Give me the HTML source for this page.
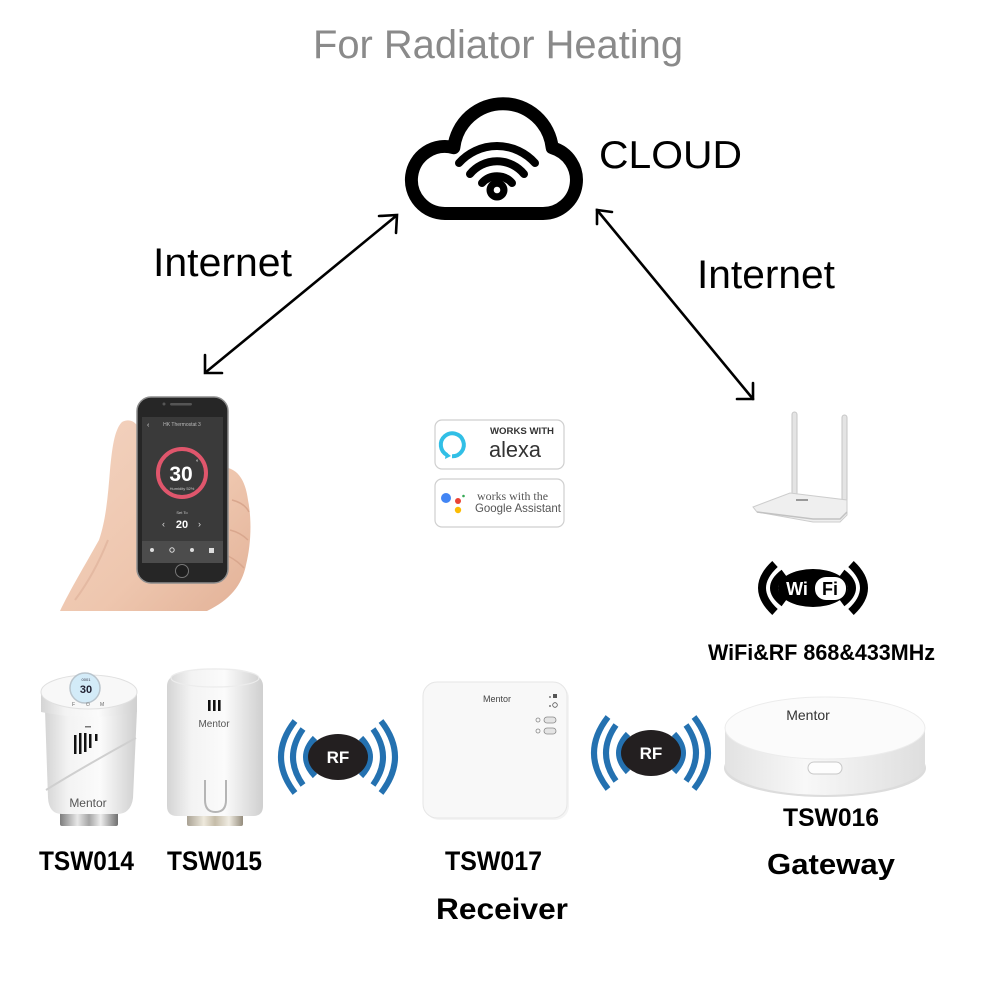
<!DOCTYPE html>
<html><head><meta charset="utf-8"><style>
html,body{margin:0;padding:0;background:#fff;}
svg{display:block;}
</style></head><body>
<svg width="1000" height="1000" viewBox="0 0 1000 1000" xmlns="http://www.w3.org/2000/svg" font-family="'Liberation Sans', Arial, sans-serif">
<defs>
  <linearGradient id="cyl" x1="0" y1="0" x2="1" y2="0">
    <stop offset="0" stop-color="#d4d4d4"/><stop offset="0.25" stop-color="#f3f3f3"/>
    <stop offset="0.6" stop-color="#fbfbfb"/><stop offset="1" stop-color="#cfcfcf"/>
  </linearGradient>
  <linearGradient id="metal" x1="0" y1="0" x2="1" y2="0">
    <stop offset="0" stop-color="#7d7d7d"/><stop offset="0.3" stop-color="#e8e8e8"/>
    <stop offset="0.5" stop-color="#a5a5a5"/><stop offset="0.7" stop-color="#eeeeee"/><stop offset="1" stop-color="#6f6f6f"/>
  </linearGradient>
  <linearGradient id="brass" x1="0" y1="0" x2="1" y2="0">
    <stop offset="0" stop-color="#a9a294"/><stop offset="0.3" stop-color="#eee9dc"/>
    <stop offset="0.5" stop-color="#c5bca8"/><stop offset="0.75" stop-color="#f0ece2"/><stop offset="1" stop-color="#948c7c"/>
  </linearGradient>
  <linearGradient id="gwside" x1="0" y1="0" x2="1" y2="0">
    <stop offset="0" stop-color="#e2e2e2"/><stop offset="0.4" stop-color="#f8f8f8"/><stop offset="1" stop-color="#dedede"/>
  </linearGradient>
  <linearGradient id="skin" x1="0" y1="0" x2="1" y2="1">
    <stop offset="0" stop-color="#f3d3c0"/><stop offset="0.6" stop-color="#eec6ae"/><stop offset="1" stop-color="#e2b197"/>
  </linearGradient>
</defs>

<!-- Title -->
<text x="313" y="58" font-size="40" fill="#8a8a8a" textLength="370" lengthAdjust="spacingAndGlyphs">For Radiator Heating</text>

<!-- Cloud -->
<path d="M445,213.5 A33.5,33.5 0 1 1 453.8,147.7 A49.5,49.5 0 0 1 552.2,147.8 A33.5,33.5 0 0 1 543,213.5 Z" fill="none" stroke="#000" stroke-width="13" stroke-linejoin="round"/>
<g fill="none" stroke="#000" stroke-width="8" stroke-linecap="round">
  <path d="M459,163 A51,51 0 0 1 535,163"/>
  <path d="M470,174 A35,35 0 0 1 524,174"/>
  <path d="M482,183 A20,20 0 0 1 512,183"/>
</g>
<circle cx="497" cy="190" r="10.5" fill="#000"/>
<circle cx="497" cy="190" r="3.3" fill="#fff"/>
<text x="599" y="168" font-size="39" fill="#000" textLength="143" lengthAdjust="spacingAndGlyphs">CLOUD</text>

<!-- Arrows -->
<g stroke="#000" stroke-width="2.6" fill="none" stroke-linecap="round" stroke-linejoin="miter">
  <line x1="206" y1="372" x2="396" y2="216"/>
  <polyline points="379,216 397,215 396,233"/>
  <polyline points="205,355 205,373 222,373"/>
  <line x1="597" y1="210" x2="753" y2="399"/>
  <polyline points="612,212 597,210 597,224"/>
  <polyline points="737,399 753,399 753,383"/>
</g>
<text x="153" y="276" font-size="40" fill="#000" textLength="139" lengthAdjust="spacingAndGlyphs">Internet</text>
<text x="697" y="288" font-size="40" fill="#000" textLength="138" lengthAdjust="spacingAndGlyphs">Internet</text>

<!-- Hand + phone -->
<path d="M122,422 C132,417 140,424 142,440 L228,468 C240,471 246,484 248,500 C252,520 251,545 246,565 C242,585 230,600 207,611 L60,611 C70,590 85,565 99,540 C106,520 108,495 110,470 C112,450 114,430 122,422 Z" fill="url(#skin)"/>
<path d="M232,500 C240,502 246,506 249,512 M230,530 C238,532 244,536 248,540 M228,556 C236,560 240,564 244,568" stroke="#d9a78e" stroke-width="1.5" fill="none"/>
<path d="M75,600 C90,580 100,560 108,540" stroke="#e4b9a2" stroke-width="2" fill="none"/>
<rect x="137" y="397" width="91" height="186" rx="14" fill="#262626" stroke="#8d8d8d" stroke-width="1.5"/>
<rect x="142" y="417" width="81" height="146" fill="#3a3a3a"/>
<rect x="170" y="403" width="22" height="2.5" rx="1.2" fill="#555"/>
<circle cx="164" cy="404" r="1.5" fill="#555"/>
<text x="182" y="426" font-size="5" fill="#bbb" text-anchor="middle">HK Thermostat 3</text>
<text x="147" y="427" font-size="7" fill="#ddd">‹</text>
<circle cx="182" cy="473" r="24" fill="none" stroke="#e0566c" stroke-width="4"/>
<text x="181" y="481" font-size="21" font-weight="bold" fill="#fff" text-anchor="middle">30</text>
<text x="196" y="464" font-size="6" fill="#fff">°</text>
<text x="182" y="490" font-size="4" fill="#ccc" text-anchor="middle">Humidity 52%</text>
<text x="182" y="514" font-size="4" fill="#ccc" text-anchor="middle">Set To</text>
<text x="182" y="528" font-size="11" font-weight="bold" fill="#fff" text-anchor="middle">20</text>
<text x="162" y="527" font-size="9" fill="#ddd">‹</text>
<text x="198" y="527" font-size="9" fill="#ddd">›</text>
<rect x="142" y="541" width="81" height="22" fill="#4c4c4c"/>
<g fill="#ddd"><circle cx="152" cy="550" r="2"/><circle cx="172" cy="550" r="2.2" fill="none" stroke="#ddd" stroke-width="1"/><circle cx="192" cy="550" r="2"/><rect x="209" y="548" width="5" height="5"/></g>
<circle cx="182" cy="571" r="6.5" fill="#1e1e1e" stroke="#777" stroke-width="1"/>

<!-- Badges -->
<rect x="435" y="420" width="129" height="49" rx="7" fill="#fff" stroke="#cfcfcf" stroke-width="1.2"/>
<path d="M447,455 A11.5,11.5 0 1 1 452,456.3" fill="none" stroke="#31bfe6" stroke-width="4"/>
<path d="M446,452 L445,459 L451,456" fill="#31bfe6"/>
<text x="490" y="434" font-size="9" font-weight="bold" fill="#333" textLength="64" lengthAdjust="spacingAndGlyphs">WORKS WITH</text>
<text x="489" y="457" font-size="22" fill="#333" textLength="52" lengthAdjust="spacingAndGlyphs">alexa</text>
<rect x="435" y="479" width="129" height="48" rx="7" fill="#fff" stroke="#cfcfcf" stroke-width="1.2"/>
<circle cx="446" cy="498" r="5" fill="#4285f4"/>
<circle cx="458" cy="501" r="3" fill="#ea4335"/>
<circle cx="458" cy="510" r="3.2" fill="#fbbc05"/>
<circle cx="463.5" cy="496" r="1.3" fill="#34a853"/>
<text x="477" y="500" font-size="11.5" font-family="'Liberation Serif', serif" fill="#555" textLength="71" lengthAdjust="spacingAndGlyphs">works with the</text>
<text x="475" y="512" font-size="12" fill="#555" textLength="86" lengthAdjust="spacingAndGlyphs">Google Assistant</text>

<!-- Router -->
<rect x="792" y="412" width="5" height="84" rx="2.5" fill="#e4e4e4" stroke="#c6c6c6" stroke-width="1"/>
<rect x="842" y="415" width="5" height="92" rx="2.5" fill="#e4e4e4" stroke="#c6c6c6" stroke-width="1"/>
<path d="M753,507 L790,493 L847,500 L847,515 L840,522 L813,522 L757,512 Z" fill="#efefef" stroke="#cdcdcd" stroke-width="1"/>
<path d="M757,512 L813,519 L840,519 L847,512" fill="none" stroke="#c2c2c2" stroke-width="1.5"/>
<rect x="796" y="499" width="12" height="2" fill="#999"/>

<!-- WiFi logo -->
<g fill="none" stroke="#000" stroke-width="8">
  <path d="M775,564 Q749,588 775,612"/>
  <path d="M784,573 Q764,588 784,603"/>
  <path d="M851,564 Q877,588 851,612"/>
  <path d="M842,573 Q862,588 842,603"/>
</g>
<ellipse cx="813" cy="588" rx="35" ry="19" fill="#000"/>
<rect x="815" y="577" width="31" height="23" rx="11" fill="#fff"/>
<text x="797" y="595" font-size="18" font-weight="bold" fill="#fff" text-anchor="middle">Wi</text>
<text x="830" y="595" font-size="18" font-weight="bold" fill="#000" text-anchor="middle">Fi</text>
<text x="708" y="660" font-size="22" font-weight="bold" fill="#000" textLength="227" lengthAdjust="spacingAndGlyphs">WiFi&amp;RF 868&amp;433MHz</text>

<!-- TSW014 -->
<rect x="60" y="808" width="58" height="18" rx="2" fill="url(#metal)"/>
<path d="M45,710 L137,710 L133,798 Q131,814 117,814 L62,814 Q49,814 48,798 Z" fill="url(#cyl)"/>
<path d="M46,790 C70,775 110,752 136,738" stroke="#cfcfcf" stroke-width="2" fill="none"/>
<path d="M41,692 L137,692 L137,712 Q89,722 41,712 Z" fill="url(#cyl)"/>
<ellipse cx="89" cy="692" rx="48" ry="17" fill="#f8f8f8" stroke="#e0e0e0" stroke-width="1"/>
<circle cx="85" cy="688" r="15" fill="#d3ebf8" stroke="#b9c4cc" stroke-width="1.5"/>
<text x="86" y="693" font-size="11" font-weight="bold" fill="#223" text-anchor="middle">30</text>
<text x="86" y="681" font-size="4" fill="#334" text-anchor="middle">0001</text>
<text x="72" y="706" font-size="5" fill="#666">F</text>
<text x="86" y="706" font-size="5" fill="#666">⏻</text>
<text x="100" y="706" font-size="5" fill="#666">M</text>
<g fill="#111">
  <rect x="74" y="735" width="2.5" height="19"/>
  <rect x="79" y="733" width="2.5" height="21"/>
  <rect x="84" y="733" width="2.5" height="19"/>
  <rect x="89" y="734" width="2.5" height="14"/>
  <rect x="95" y="734" width="2.5" height="7"/>
  <rect x="85" y="726" width="6" height="1.5" fill="#777"/>
</g>
<text x="88" y="807" font-size="12" fill="#555" text-anchor="middle">Mentor</text>

<!-- TSW015 -->
<rect x="187" y="810" width="56" height="16" rx="2" fill="url(#brass)"/>
<path d="M167,686 Q167,668 215,668 Q263,668 263,686 L263,806 Q263,816 253,816 L177,816 Q167,816 167,806 Z" fill="url(#cyl)"/>
<ellipse cx="215" cy="678" rx="44" ry="9" fill="none" stroke="#ececec" stroke-width="1.2"/>
<g fill="#111">
  <rect x="208" y="700" width="2.6" height="11"/>
  <rect x="213" y="700" width="2.6" height="11"/>
  <rect x="218" y="700" width="2.6" height="11"/>
</g>
<text x="214" y="727" font-size="10" fill="#555" text-anchor="middle">Mentor</text>
<path d="M205,780 L205,800 Q205,812 215.5,812 Q226,812 226,800 L226,780" fill="none" stroke="#b5b5b5" stroke-width="2"/>

<!-- RF left -->
<g id="rf1">
  <g fill="none" stroke="#2471b0" stroke-width="6">
    <path d="M315,738 Q297,757 315,776"/>
    <path d="M303,729 Q283,757 303,785"/>
    <path d="M295,721 Q267,757 295,793"/>
    <path d="M361,738 Q379,757 361,776"/>
    <path d="M373,729 Q393,757 373,785"/>
    <path d="M381,721 Q409,757 381,793"/>
  </g>
  <ellipse cx="338" cy="757" rx="30" ry="23" fill="#231f20"/>
  <text x="338" y="763" font-size="17" font-weight="bold" fill="#fff" text-anchor="middle">RF</text>
</g>
<!-- RF right -->
<g transform="translate(313,-4)">
  <g fill="none" stroke="#2471b0" stroke-width="6">
    <path d="M315,738 Q297,757 315,776"/>
    <path d="M303,729 Q283,757 303,785"/>
    <path d="M295,721 Q267,757 295,793"/>
    <path d="M361,738 Q379,757 361,776"/>
    <path d="M373,729 Q393,757 373,785"/>
    <path d="M381,721 Q409,757 381,793"/>
  </g>
  <ellipse cx="338" cy="757" rx="30" ry="23" fill="#231f20"/>
  <text x="338" y="763" font-size="17" font-weight="bold" fill="#fff" text-anchor="middle">RF</text>
</g>

<!-- Receiver -->
<rect x="425" y="684" width="144" height="136" rx="14" fill="#ececec" opacity="0.6"/>
<rect x="423" y="682" width="144" height="136" rx="14" fill="#f8f8f8" stroke="#e6e6e6" stroke-width="1"/>
<text x="497" y="702" font-size="9" fill="#444" text-anchor="middle">Mentor</text>
<g fill="#555">
  <circle cx="550" cy="697" r="0.9"/><rect x="553" y="694" width="4" height="4"/>
  <circle cx="550" cy="706" r="0.9"/><circle cx="555" cy="705" r="2.3" fill="none" stroke="#555" stroke-width="0.8"/>
</g>
<circle cx="538" cy="720" r="2" fill="none" stroke="#888" stroke-width="0.8"/>
<rect x="544" y="717" width="12" height="6" rx="3" fill="#e4e4e4" stroke="#888" stroke-width="0.8"/>
<circle cx="538" cy="731" r="2" fill="none" stroke="#888" stroke-width="0.8"/>
<rect x="544" y="728" width="12" height="6" rx="3" fill="#e4e4e4" stroke="#888" stroke-width="0.8"/>

<!-- Gateway -->
<ellipse cx="825" cy="768" rx="101" ry="29" fill="#dcdcdc"/>
<path d="M725,728 L725,765 A100,30 0 0 0 925,765 L925,728 Z" fill="url(#gwside)"/>
<ellipse cx="825" cy="728" rx="100" ry="31" fill="#fbfbfb" stroke="#ececec" stroke-width="1"/>
<text x="808" y="720" font-size="14" fill="#333" text-anchor="middle">Mentor</text>
<rect x="808" y="762" width="34" height="12" rx="6" fill="#fdfdfd" stroke="#c8c8c8" stroke-width="1"/>

<!-- Labels -->
<g font-weight="bold" fill="#000">
  <text x="39" y="870" font-size="27" textLength="95" lengthAdjust="spacingAndGlyphs">TSW014</text>
  <text x="167" y="870" font-size="27" textLength="95" lengthAdjust="spacingAndGlyphs">TSW015</text>
  <text x="445" y="870" font-size="27" textLength="97" lengthAdjust="spacingAndGlyphs">TSW017</text>
  <text x="436" y="919" font-size="30" textLength="132" lengthAdjust="spacingAndGlyphs">Receiver</text>
  <text x="783" y="826" font-size="25" textLength="96" lengthAdjust="spacingAndGlyphs">TSW016</text>
  <text x="767" y="874" font-size="29" textLength="128" lengthAdjust="spacingAndGlyphs">Gateway</text>
</g>
</svg>
</body></html>
